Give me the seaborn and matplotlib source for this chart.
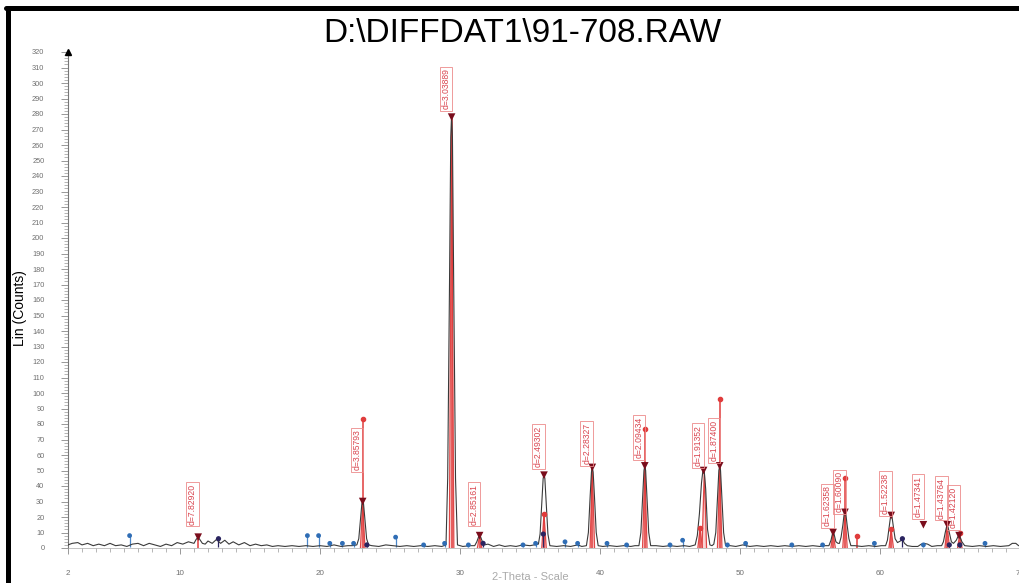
import numpy as np
import pandas as pd
import matplotlib
matplotlib.use("Agg")
import matplotlib.pyplot as plt
import seaborn as sns
from matplotlib.ticker import MultipleLocator
from matplotlib.lines import Line2D

two_theta = [2.0, 2.3, 2.7, 3.0, 3.4, 3.8, 4.2, 4.6, 5.0, 5.4, 5.8, 6.2, 6.6, 7.0, 7.4, 7.8,
             8.2, 8.6, 9.0, 9.4, 9.8, 10.2, 10.6, 11.0, 11.15, 11.3, 11.45, 11.6, 11.8, 12.0,
             12.3, 12.6, 12.9, 13.2, 13.5, 13.8, 14.2, 14.6, 15.0, 15.4, 15.8, 16.2, 16.6,
             17.0, 17.5, 18.0, 18.5, 19.0, 19.5, 20.0, 20.5, 21.0, 21.5, 22.0, 22.3,
             22.63, 22.77, 22.9, 22.99, 23.05, 23.11, 23.2, 23.33, 23.47, 23.7, 24.2, 24.7,
             25.2, 25.7, 26.2, 26.7, 27.2, 27.7, 28.2, 28.7,
             29.0, 29.12, 29.25, 29.34, 29.4, 29.46, 29.55, 29.68, 29.82,
             30.2, 30.7, 31.05, 31.2, 31.32, 31.4, 31.48, 31.6, 31.75, 32.0, 32.4, 32.8,
             33.2, 33.6, 34.0, 34.5, 35.0, 35.3,
             35.6, 35.72, 35.85, 35.94, 36.0, 36.06, 36.15, 36.28, 36.42, 36.9, 37.4, 37.9,
             38.4, 38.7, 39.03, 39.17, 39.3, 39.39, 39.45, 39.51, 39.6, 39.73, 39.87,
             40.2, 40.7, 41.2, 41.7, 42.2, 42.5,
             42.78, 42.92, 43.05, 43.14, 43.2, 43.26, 43.35, 43.48, 43.62, 44.0, 44.5, 45.0,
             45.5, 46.0, 46.4,
             46.8, 46.95, 47.1, 47.25, 47.35, 47.45, 47.55, 47.68, 47.85, 48.0,
             48.13, 48.27, 48.4, 48.49, 48.55, 48.61, 48.7, 48.83, 48.97, 49.3, 49.7,
             50.2, 50.7, 51.2, 51.7, 52.2, 52.7, 53.2, 53.7, 54.2, 54.7, 55.2, 55.7, 56.1,
             56.35, 56.5, 56.6, 56.65, 56.72, 56.85, 57.0,
             57.1, 57.22, 57.35, 57.44, 57.5, 57.56, 57.65, 57.78, 57.92, 58.2, 58.7, 59.2,
             59.7, 60.1,
             60.4, 60.53, 60.66, 60.75, 60.8, 60.86, 60.95, 61.08, 61.25, 61.45, 61.6, 61.75,
             61.95, 62.3, 62.7, 62.95, 63.15, 63.4, 63.7, 64.1,
             64.4, 64.53, 64.66, 64.75, 64.8, 64.86, 64.95, 65.1, 65.25, 65.45, 65.6, 65.7,
             65.85, 66.05, 66.6, 67.1, 67.6, 68.1, 68.6, 69.2, 69.45, 69.7, 69.9, 70.0]
counts = [2, 3, 3.5, 2, 3, 1.5, 2.5, 1.5, 3, 1.5, 2, 1, 2.5, 3, 1.5, 3,
          2, 1, 2.5, 1.5, 3.5, 2.5, 4, 3, 5.5, 7, 5, 3, 2.5, 4.5,
          3, 5.5, 3, 5, 2.5, 4, 2, 3.5, 1.5, 2.5, 1.5, 2, 1,
          1.5, 1, 1.5, 1, 1.5, 1, 1.5, 1, 2, 1, 1.5, 1.5,
          2, 6, 19.5, 28.5, 30, 28.5, 19.5, 6, 2, 1.5, 1, 2,
          1.5, 1, 1.5, 1, 1.5, 1, 1.5, 1,
          2, 45, 170, 265, 279, 265, 170, 45, 2,
          1, 1.5, 1.5, 4, 7, 8, 7, 4, 2, 2.5, 1, 2,
          1, 1.5, 1, 2, 1.5, 2,
          2.5, 9, 30, 45, 47, 45, 30, 9, 1.5, 1, 1.5, 1,
          2, 1, 1.5, 10, 34, 49, 52, 49, 34, 10, 1.5,
          1, 1.5, 1, 1.5, 1, 1.5,
          1.5, 10, 34, 50, 53, 50, 34, 10, 1.5, 1.5, 1, 1.5,
          1, 1.5, 1,
          2, 8, 22, 42, 50, 49, 38, 12, 2, 1.5,
          2.5, 10, 34, 50, 53, 50, 34, 10, 1.5, 1.5, 1,
          2, 1, 1.5, 1, 1.5, 1, 1.5, 1, 1.5, 1, 1.5, 1, 1.5,
          1.5, 5, 9, 10, 9, 4, 3,
          3, 7, 15, 22, 23, 22, 15, 6, 1.5, 1.5, 1, 1.5,
          1, 1.5,
          1.5, 5, 14, 20, 21, 20, 14, 6, 3.5, 4.5, 5.5, 3,
          1.5, 1, 1, 2.5, 3, 2.5, 1, 1.5,
          1.5, 4, 10, 13.5, 14, 13.5, 10, 4, 3, 5, 8, 7.5,
          4, 1.5, 1, 1.5, 1, 1.5, 1, 1.5, 3, 3, 1.5, 1.5]

# identified peaks: position, marker height, d-spacing label, label bottom
peak_pos = [11.3, 23.05, 29.4, 31.4, 36.0, 39.45, 43.2, 47.4, 48.55, 56.65, 57.5,
            60.8, 63.1, 64.8, 65.65]
peak_height = [7, 30, 278, 8, 47, 52, 53, 50, 53, 10, 23, 21, 15, 15, 8]
peak_labels = ["d=7.82920", "d=3.85793", "d=3.03889", "d=2.85161", "d=2.49302",
               "d=2.28327", "d=2.09434", "d=1.91352", "d=1.87400", "d=1.62358",
               "d=1.60090", "d=1.52238", "d=1.47341", "d=1.43764", "d=1.42120"]
label_bottom = [15, 50, 283, 15, 52, 54, 58, 53, 56, 14, 23, 22, 20, 19, 13]

# reference (red) lines
stick_pos = [11.3, 23.05, 29.4, 31.4, 36.0, 39.45, 43.2, 47.15, 48.55, 56.65, 57.5,
             58.35, 60.8, 64.8, 65.75]
stick_height = [7, 83, 278, 8, 22, 52, 77, 13, 96, 10, 45, 8, 12, 15, 10]
dotted_sticks = [23.05, 36.0, 43.2, 47.15, 48.55, 57.5, 58.35, 60.8, 65.75]

# red profile peaks
profile_pos = [23.05, 29.4, 31.4, 36.0, 39.45, 43.2, 47.15, 47.45, 48.55, 56.65,
               57.5, 60.8, 64.8, 65.7]
profile_height = [30, 278, 8, 22, 52, 53, 13, 50, 53, 10, 23, 12, 15, 9]

# other (blue) candidate lines
blue_pos = [6.4, 19.1, 19.9, 20.7, 21.6, 22.4, 25.4, 27.4, 28.9, 30.6, 34.5, 35.4,
            37.5, 38.4, 40.5, 41.9, 45.0, 45.9, 49.1, 50.4, 53.7, 55.9, 59.6, 63.1, 67.5]
blue_height = [8, 8, 8, 3, 3, 3, 7, 2, 3, 2, 2, 3, 4, 3, 3, 2, 2, 5, 2, 3, 2, 2, 3, 2, 3]
dark_pos = [12.75, 23.35, 31.65, 35.95, 61.6, 64.95, 65.7]
dark_height = [6, 2, 3, 9, 6, 2, 2]

x_ticks = [2, 10, 20, 30, 40, 50, 60, 70]

sns.set_theme(style="white")
plt.rcParams['font.family'] = ['Liberation Sans', 'DejaVu Sans']

fig = plt.figure(figsize=(10.19, 5.83), dpi=100)
ax = fig.add_axes([68 / 1019, 35 / 583, 952 / 1019, 496 / 583])

# red profiles under the measured curve
for c, h in zip(profile_pos, profile_height):
    ax.fill([c - 0.16, c, c + 0.16], [0, h, 0], color='#f4a0a0', alpha=0.45, lw=0)
    ax.plot([c - 0.16, c, c + 0.16], [0, h, 0], color='#e04848', lw=0.9)

ax.vlines(stick_pos, 0, stick_height, color='#e03c3c', lw=1.1)
dot_h = [stick_height[stick_pos.index(p)] for p in dotted_sticks]
ax.scatter(dotted_sticks, dot_h, s=9, color='#e03c3c', zorder=4)

# blue candidate lines
ax.vlines(blue_pos, 0.5, blue_height, color='#4a86c8', lw=0.9)
sns.scatterplot(x=blue_pos, y=blue_height, ax=ax, s=12, color='#2f6db5',
                edgecolor='none', zorder=4)
ax.vlines(dark_pos, 0.5, dark_height, color='#2a2460', lw=0.9)
sns.scatterplot(x=dark_pos, y=dark_height, ax=ax, s=14, color='#2a2460',
                edgecolor='none', zorder=4)

# measured pattern
sns.lineplot(x=two_theta, y=counts, ax=ax, color='#3a3a3a', lw=0.8,
             sort=False, estimator=None, zorder=3)

# peak markers and d labels
sns.scatterplot(x=peak_pos, y=peak_height, ax=ax, marker='v', s=30,
                color='#7a0d1c', edgecolor='none', zorder=5)
for x, yb, lab in zip(peak_pos, label_bottom, peak_labels):
    ax.text(x - 0.08, yb, lab, rotation=90, ha='right', va='bottom', fontsize=6.2,
            color='#d9454f', zorder=6,
            bbox=dict(boxstyle='square,pad=0.2', fc='none', ec='#ec8a8a', lw=0.6))

ax.set_xlim(2, 70)
ax.set_ylim(0, 320)
ax.set_yticks(range(0, 321, 10))
ax.yaxis.set_minor_locator(MultipleLocator(2))
ax.set_xticks(x_ticks)
ax.xaxis.set_minor_locator(MultipleLocator(1))
ax.tick_params(axis='y', which='major', direction='out', length=5, width=0.6,
               color='#888888', labelsize=5.3, labelcolor='#6f6f6f', pad=12, left=True)
ax.tick_params(axis='y', which='minor', direction='out', length=3, width=0.5,
               color='#999999', left=True)
ax.tick_params(axis='x', which='major', direction='out', length=4, width=0.6,
               color='#888888', labelsize=5.8, labelcolor='#6f6f6f', pad=12, bottom=True)
ax.tick_params(axis='x', which='minor', direction='out', length=3, width=0.5,
               color='#999999', bottom=True)
for s in ['top', 'right']:
    ax.spines[s].set_visible(False)
ax.spines['left'].set_color('#777777')
ax.spines['left'].set_linewidth(0.8)
ax.spines['bottom'].set_color('#aaaaaa')
ax.spines['bottom'].set_linewidth(0.5)
ax.set_xlabel('')
ax.set_ylabel('')
ax.plot([2], [320], marker='^', ms=4, color='black', clip_on=False, zorder=6)

fig.text(0.513, 1 - 34 / 583, 'D:\\DIFFDAT1\\91-708.RAW', ha='center', va='center',
         fontsize=24, color='black')
fig.text(20 / 1019, 1 - 308 / 583, 'Lin (Counts)', rotation=90, ha='center',
         va='center', fontsize=10, color='black')
fig.text(0.52, 1 / 583, '2-Theta - Scale', ha='center', va='bottom', fontsize=8,
         color='#aaaaaa')

# frame edges of the original window
fig.add_artist(Line2D([8 / 1019, 8 / 1019], [0, 1 - 8 / 583],
                      transform=fig.transFigure, color='black', lw=3.6))
fig.add_artist(Line2D([6 / 1019, 1], [1 - 8 / 583, 1 - 8 / 583],
                      transform=fig.transFigure, color='black', lw=3.6))

fig.savefig('out.png', dpi=100)
